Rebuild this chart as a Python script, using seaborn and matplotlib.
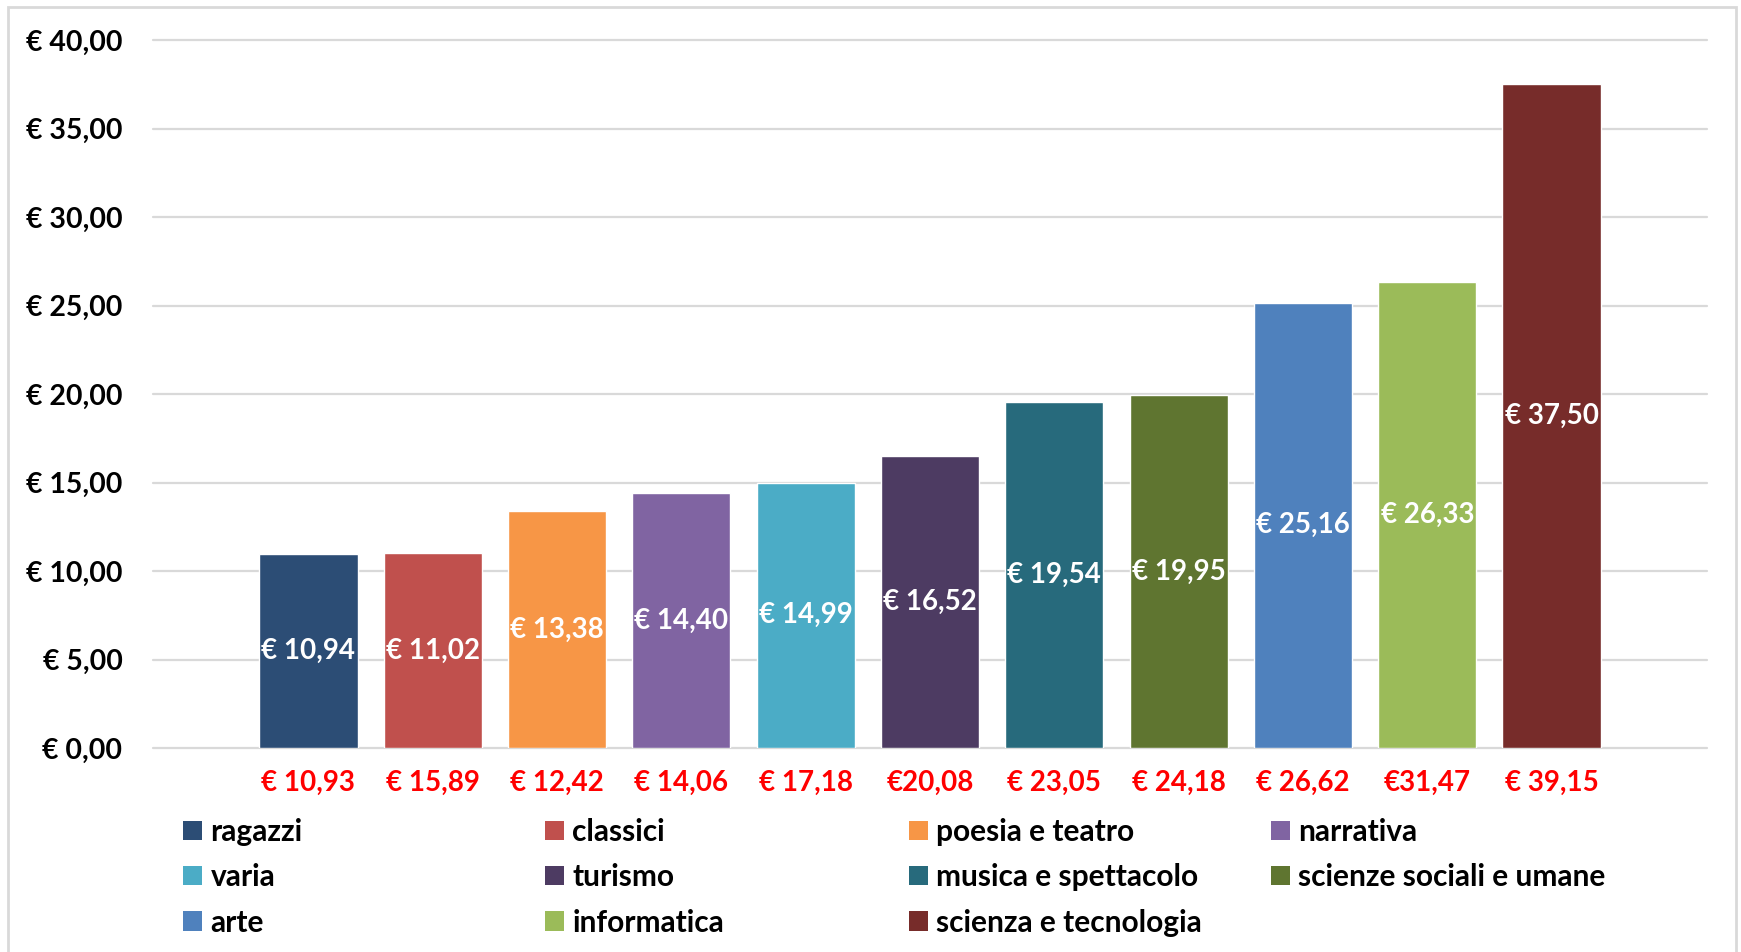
import matplotlib
matplotlib.use("Agg")
import matplotlib.pyplot as plt
import seaborn as sns
import pandas as pd
from matplotlib.patches import Patch, Rectangle

categorie = ["ragazzi", "classici", "poesia e teatro", "narrativa", "varia", "turismo",
             "musica e spettacolo", "scienze sociali e umane", "arte", "informatica",
             "scienza e tecnologia"]
prezzi = [10.94, 11.02, 13.38, 14.40, 14.99, 16.52, 19.54, 19.95, 25.16, 26.33, 37.50]
prezzi_rossi = ["€ 10,93", "€ 15,89", "€ 12,42", "€ 14,06", "€ 17,18", "€20,08",
                "€ 23,05", "€ 24,18", "€ 26,62", "€31,47", "€ 39,15"]
colori = ["#2C4D75", "#C0504D", "#F79646", "#8064A2", "#4BACC6", "#4D3B62",
          "#276A7C", "#5F7530", "#4F81BD", "#9BBB59", "#772C2A"]
y_ticks = [0, 5, 10, 15, 20, 25, 30, 35, 40]

sns.set_theme(style="white")
plt.rcParams["font.family"] = ["Lato", "DejaVu Sans"]
plt.rcParams["font.weight"] = "bold"
plt.rcParams["text.color"] = "black"
plt.rcParams["xtick.color"] = "black"
plt.rcParams["ytick.color"] = "black"

W, H = 1741, 952
fig = plt.figure(figsize=(W / 100, H / 100), dpi=100)
ax = fig.add_axes([153 / W, 204 / H, 1554 / W, 708 / H])

df = pd.DataFrame({"categoria": categorie, "prezzo": prezzi})
sns.barplot(data=df, x="categoria", y="prezzo", hue="categoria", order=categorie,
            hue_order=categorie, palette=colori, width=0.79, saturation=1,
            legend=False, ax=ax, zorder=3)

ax.set_ylim(0, 40)
ax.set_xlim(-1.25, 10.25 + 1.0)
ax.set_yticks(y_ticks)
ax.set_yticklabels([f"€ {v:.2f}".replace(".", ",") for v in y_ticks])
ax.yaxis.grid(True, color="#d9d9d9", lw=1.6)
ax.xaxis.grid(False)
ax.set_axisbelow(True)
for gl in ax.get_ygridlines():
    gl.set_clip_on(False)
for s in ax.spines.values():
    s.set_visible(False)
ax.set_xlabel("")
ax.set_ylabel("")
ax.set_xticks(range(len(categorie)))
ax.set_xticklabels(prezzi_rossi, color="#FF0000", fontsize=20, fontweight="bold")
ax.tick_params(axis="x", length=0, pad=16)
ax.tick_params(axis="y", length=0, pad=22, labelsize=20.5)

for cont in ax.containers:
    labs = [f"€ {v:.2f}".replace(".", ",") for v in cont.datavalues]
    ax.bar_label(cont, labels=labs, label_type="center", color="white",
                 fontsize=20, fontweight="bold")

# legend: 4 equally spaced columns, filled row-wise
col_x = [183, 545, 909, 1271]
for j, x0 in enumerate(col_x):
    idx = [i for i in range(j, len(categorie), 4)]
    handles = [Patch(facecolor=colori[i], edgecolor="none") for i in idx]
    labels = [categorie[i] for i in idx]
    fig.legend(handles, labels, loc="upper left", bbox_to_anchor=(x0 / W, 1 - 818 / H),
               frameon=False, prop={"size": 21.5, "weight": "bold"},
               handlelength=0.62, handleheight=0.62, handletextpad=0.3,
               labelspacing=0.58, borderpad=0, borderaxespad=0)

fig.add_artist(Rectangle((8 / W, -0.01), (1736 - 8) / W, 1 - 7 / H + 0.01,
                         transform=fig.transFigure, fill=False,
                         edgecolor="#d9d9d9", lw=2))

fig.savefig("out.png", dpi=100)
